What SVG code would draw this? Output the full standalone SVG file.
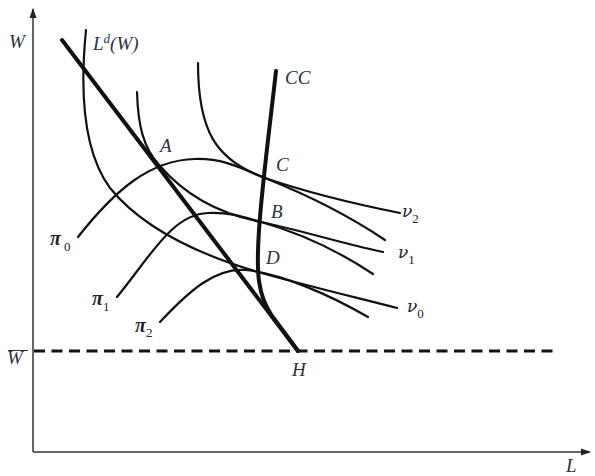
<svg xmlns="http://www.w3.org/2000/svg" width="595" height="476" viewBox="0 0 595 476">
<defs>
<style>
.axis{stroke:#333;stroke-width:1.5;fill:none}
.thin{stroke:#111;stroke-width:2.2;fill:none;stroke-linecap:round}
.thick{stroke:#111;stroke-width:4;fill:none;stroke-linecap:round}
.dash{stroke:#111;stroke-width:3;fill:none;stroke-dasharray:11 6.5}
.lbl{font-family:"Liberation Serif","DejaVu Serif",serif;font-style:italic;font-size:19px;fill:#2b3045}
.gk{font-family:"DejaVu Serif","Liberation Serif",serif;font-style:italic;font-size:17px;fill:#1e2233}
.pi{font-family:"Liberation Serif","DejaVu Serif",serif;font-weight:bold;font-size:20px}
.sub{font-family:"Liberation Serif","DejaVu Serif",serif;font-style:normal;font-weight:normal;font-size:13px}
</style>
<marker id="arr" markerWidth="10" markerHeight="10" refX="9" refY="5" orient="auto" markerUnits="userSpaceOnUse">
<path d="M0,1.5 L10,5 L0,8.5 Z" fill="#222"/>
</marker>
</defs>
<g id="axes">
<line class="axis" x1="33" y1="452" x2="33" y2="9" marker-end="url(#arr)"/>
<line class="axis" x1="33" y1="452" x2="590" y2="452" marker-end="url(#arr)"/>
<text class="lbl" x="9" y="48">W</text>
<text class="lbl" x="566" y="472">L</text>
<text class="lbl" x="7" y="364">W</text>
<line x1="8" y1="350.5" x2="28" y2="350.5" stroke="#2b3045" stroke-width="1"/>
</g>
<g id="connectors">
<line class="dash" x1="34" y1="351" x2="553" y2="351"/>
<path id="Ld" class="thick" d="M62,40 L298,351"/>
<path id="CCcurve" class="thick" stroke-width="3.6" d="M276,71 C270,125 262,185 259,230 C256,275 258,295 272,316 C281,328 290,340 298,351"/>
<path id="nu2" class="thin" d="M198,63 C198,130 215,160 265,178 C300,190 350,203 400,213"/>
<path id="nu1" class="thin" d="M137,92 C138,125 143,148 160,166 C185,195 220,214 261,222 C300,230 340,243 383,252"/>
<path id="nu0" class="thin" d="M86,30 C80,90 82,150 110,188 C140,225 190,252 258,272 C300,284 350,296 397,308"/>
<path id="pi0" class="thin" d="M78,237 C115,190 150,160 195,159 C225,158 245,170 265,178 C300,192 345,213 385,240"/>
<path id="pi1" class="thin" d="M117,297 C150,257 172,214 208,213 C232,212 246,218 261,222 C300,233 340,252 373,274"/>
<path id="pi2" class="thin" d="M160,322 C190,290 215,268 245,270 C280,273 330,295 368,317"/>
</g>
<g id="label-Ld"><text class="lbl" x="93" y="50">L<tspan font-size="13" dy="-7">d</tspan><tspan dy="7">(W)</tspan></text></g>
<g id="label-CC"><text class="lbl" x="285" y="84">CC</text></g>
<g id="point-A"><text class="lbl" x="160" y="152">A</text></g>
<g id="point-C"><text class="lbl" x="276" y="171">C</text></g>
<g id="point-B"><text class="lbl" x="271" y="218">B</text></g>
<g id="point-D"><text class="lbl" x="266" y="264">D</text></g>
<g id="point-H"><text class="lbl" x="292" y="376">H</text></g>
<g id="label-nu2"><text class="gk" x="402" y="217">ν<tspan class="sub" dy="6">2</tspan></text></g>
<g id="label-nu1"><text class="gk" x="398" y="258">ν<tspan class="sub" dy="6">1</tspan></text></g>
<g id="label-nu0"><text class="gk" x="407" y="312">ν<tspan class="sub" dy="6">0</tspan></text></g>
<g id="label-pi0"><text class="gk pi" x="50" y="245">π<tspan class="sub" dx="3" dy="6">0</tspan></text></g>
<g id="label-pi1"><text class="gk pi" x="92" y="305">π<tspan class="sub" dy="6">1</tspan></text></g>
<g id="label-pi2"><text class="gk pi" x="135" y="332">π<tspan class="sub" dy="5">2</tspan></text></g>
</svg>
